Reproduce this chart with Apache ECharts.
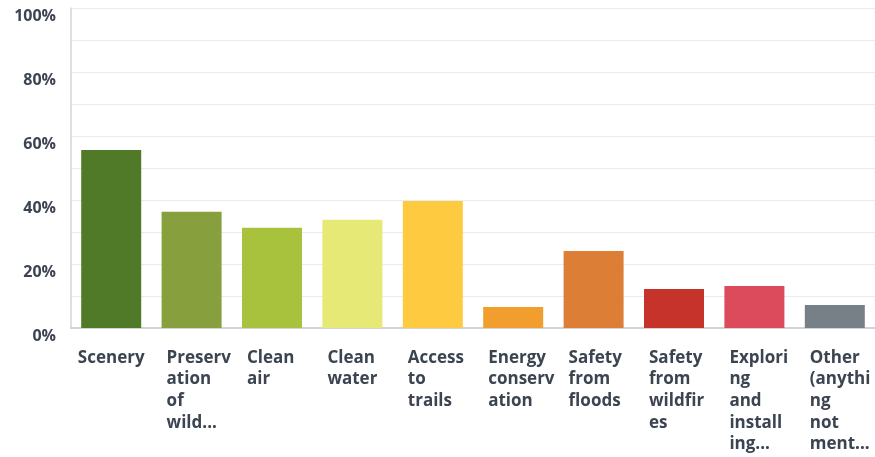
<!DOCTYPE html>
<html>
<head>
<meta charset="utf-8">
<script src="https://cdn.jsdelivr.net/npm/echarts@6/dist/echarts.min.js"></script>
<style>
html,body{margin:0;padding:0;background:#fff;}
#chart{width:875px;height:457px;}
</style>
</head>
<body>
<div id="chart"></div>
<script>
const categories = [
  'Scenery',
  'Preserv\nation\nof\nwild...',
  'Clean\nair',
  'Clean\nwater',
  'Access\nto\ntrails',
  'Energy\nconserv\nation',
  'Safety\nfrom\nfloods',
  'Safety\nfrom\nwildfir\nes',
  'Explori\nng\nand\ninstall\ning...',
  'Other\n(anythi\nng\nnot\nment...'
];
const values = [55.6, 36.3, 31.3, 33.8, 39.7, 6.6, 24.1, 12.2, 13.1, 7.2];
const barColors = ['#507a28', '#87a03d', '#a8c23e', '#e7e976', '#fdca40', '#f29e2e', '#dd7e36', '#c5332b', '#dc4b5c', '#777f87'];
const yTicks = [0, 20, 40, 60, 80, 100];

const chart = echarts.init(document.getElementById('chart'));
const textColor = '#3b4450';
const font = '"Open Sans", sans-serif';

chart.setOption({
  animation: false,
  color: barColors,
  grid: { left: 71, top: 8, height: 320, width: 806, containLabel: false },
  xAxis: {
    type: 'category',
    data: categories.map((c, i) => i === 0
      ? { value: c, textStyle: { align: 'center', padding: 0 } }
      : { value: c }),
    axisLine: { show: true, lineStyle: { color: '#d3d3d3', width: 2 } },
    axisTick: { show: false },
    axisLabel: {
      interval: 0,
      color: textColor,
      fontFamily: font,
      fontWeight: 700,
      fontSize: 17,
      lineHeight: 21.7,
      margin: 19,
      align: 'left',
      verticalAlign: 'top',
      padding: [0, 0, 0, -25]
    }
  },
  yAxis: {
    type: 'value',
    min: 0,
    max: 100,
    interval: 10,
    axisLine: { show: true, lineStyle: { color: '#d6d6d6', width: 1.5 } },
    axisTick: { show: false },
    splitLine: { show: true, lineStyle: { color: '#ebebeb', width: 1 } },
    axisLabel: {
      margin: 15,
      color: textColor,
      fontFamily: font,
      fontWeight: 700,
      fontSize: 16,
      verticalAlign: 'top',
      formatter: v => yTicks.indexOf(v) >= 0 ? v + '%' : ''
    }
  },
  series: [{
    type: 'bar',
    data: values,
    colorBy: 'data',
    barWidth: 60
  }]
});
</script>
</body>
</html>
